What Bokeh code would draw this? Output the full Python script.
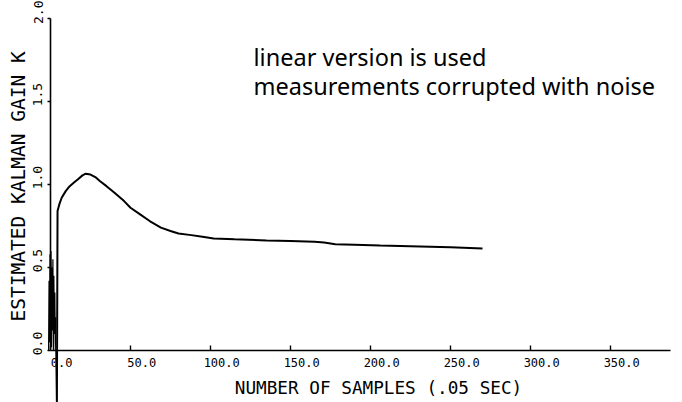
from bokeh.plotting import figure
from bokeh.models import Range1d, FixedTicker, LinearAxis, CustomLabelingPolicy
from bokeh.core.properties import value
from bokeh.embed import file_html
from bokeh.resources import INLINE

# ---- data ----
noise_x = [-1.2, -0.9, -0.6, -0.3, 0.0, 0.3, 0.6, 0.9, 1.2, 1.5, 1.8, 2.1, 2.4, 2.7, 3.0, 3.3]
noise_y = [0.0, 0.42, 0.05, 0.58, 0.08, 0.6, 0.02, 0.5, 0.12, 0.55, 0.0, 0.45, 0.1, 0.35, 0.0, 0.2]

gain_x = [3.6, 4.0, 4.4, 5.5, 7, 9.5, 12, 14.5, 17, 20, 22, 25, 28, 31, 35, 40, 46, 50,
          56, 62, 69, 75, 80, 88, 95, 102, 115, 135, 150, 165, 171, 178, 190, 206,
          231, 250, 270]
gain_y = [0.0, -0.32, 0.84, 0.88, 0.92, 0.96, 0.99, 1.01, 1.03, 1.055, 1.065, 1.06,
          1.045, 1.02, 0.99, 0.95, 0.90, 0.86, 0.82, 0.78, 0.74, 0.72, 0.705, 0.695,
          0.685, 0.675, 0.67, 0.663, 0.66, 0.655, 0.65, 0.64, 0.637, 0.633, 0.627,
          0.622, 0.615]

x_ticks = [0, 50, 100, 150, 200, 250, 300, 350]
x_tick_labels = ["0.0", "50.0", "100.0", "150.0", "200.0", "250.0", "300.0", "350.0"]
y_ticks = [0.0, 0.5, 1.0, 1.5, 2.0]
y_tick_labels = ["0.0", "0.5", "1.0", "1.5", "2.0"]

x_title = "NUMBER OF SAMPLES (.05 SEC)"
y_title = "ESTIMATED KALMAN GAIN  K"
note_lines = ["linear version is used", "measurements corrupted with noise"]

# ---- figure ----
p = figure(frame_width=620, frame_height=340,
           min_border_left=50, min_border_right=12,
           min_border_top=10, min_border_bottom=52,
           x_range=Range1d(0, 387.5), y_range=Range1d(0, 2.0482),
           output_backend="svg", toolbar_location=None)
p.outline_line_color = None
p.xgrid.visible = False
p.ygrid.visible = False
p.background_fill_color = "white"
p.border_fill_color = "white"

mono = "DejaVu Sans Mono"
no_labels = "if (false) { yield 0 }"

# ---- x axis: tick marks + line only ----
xa = p.xaxis[0]
xa.ticker = FixedTicker(ticks=x_ticks)
xa.minor_tick_line_color = None
xa.major_tick_in = 5
xa.major_tick_out = 0
xa.axis_line_width = 1.6
xa.major_tick_line_width = 1.4
xa.axis_line_color = "black"
xa.major_tick_line_color = "black"
xa.major_label_policy = CustomLabelingPolicy(code=no_labels)
xa.major_label_text_font_size = "1px"
xa.major_label_standoff = 0

# x labels, offset right of their ticks as in the plotter original
p.extra_x_ranges = {"lbl": Range1d(-7.0, 380.5)}
xl = LinearAxis(x_range_name="lbl", ticker=FixedTicker(ticks=x_ticks))
xl.major_label_overrides = {t: l for t, l in zip(x_ticks, x_tick_labels)}
xl.axis_line_color = None
xl.major_tick_line_color = None
xl.minor_tick_line_color = None
xl.major_tick_in = 0
xl.major_tick_out = 0
xl.major_label_text_font = mono
xl.major_label_text_font_size = "12px"
xl.major_label_text_color = "black"
xl.major_label_standoff = 3
p.add_layout(xl, "below")

tx = p.text(x=[205.0], y=[-0.223], text=[x_title],
            text_font=value(mono), text_font_size="17.7px", text_color="black",
            text_align="center", text_baseline="middle")
tx.level = "overlay"

# ---- y axis: tick marks + line only ----
ya = p.yaxis[0]
ya.ticker = FixedTicker(ticks=y_ticks)
ya.bounds = (0, 2.0)
ya.minor_tick_line_color = None
ya.major_tick_in = 0
ya.major_tick_out = 3
ya.axis_line_width = 1.6
ya.major_tick_line_width = 1.4
ya.axis_line_color = "black"
ya.major_tick_line_color = "black"
ya.major_label_policy = CustomLabelingPolicy(code=no_labels)
ya.major_label_text_font_size = "1px"
ya.major_label_standoff = 0

# y labels, offset upward of their ticks as in the original
p.extra_y_ranges = {"lbl": Range1d(-0.042, 2.0062)}
yl = LinearAxis(y_range_name="lbl", ticker=FixedTicker(ticks=y_ticks))
yl.major_label_overrides = {t: l for t, l in zip(y_ticks, y_tick_labels)}
yl.axis_line_color = None
yl.major_tick_line_color = None
yl.minor_tick_line_color = None
yl.major_tick_in = 0
yl.major_tick_out = 0
yl.major_label_orientation = "parallel"
yl.major_label_text_font = mono
yl.major_label_text_font_size = "13px"
yl.major_label_text_color = "black"
yl.major_label_standoff = 1
yl.axis_label = y_title
yl.axis_label_text_font = mono
yl.axis_label_text_font_style = "normal"
yl.axis_label_text_font_size = "19.5px"
yl.axis_label_text_color = "black"
yl.axis_label_standoff = 1
p.add_layout(yl, "left")

r1 = p.line(noise_x, noise_y, line_color="black", line_width=1.2)
r1.level = "overlay"
r2 = p.line(gain_x, gain_y, line_color="black", line_width=2)
r2.level = "overlay"

p.text(x=[126.9, 126.9], y=[1.77, 1.595], text=note_lines,
       text_font=value("Noto Sans"), text_font_size="23.5px",
       text_color="black", text_baseline="alphabetic", text_align="left")

open("out.html", "w").write(file_html(p, INLINE))
